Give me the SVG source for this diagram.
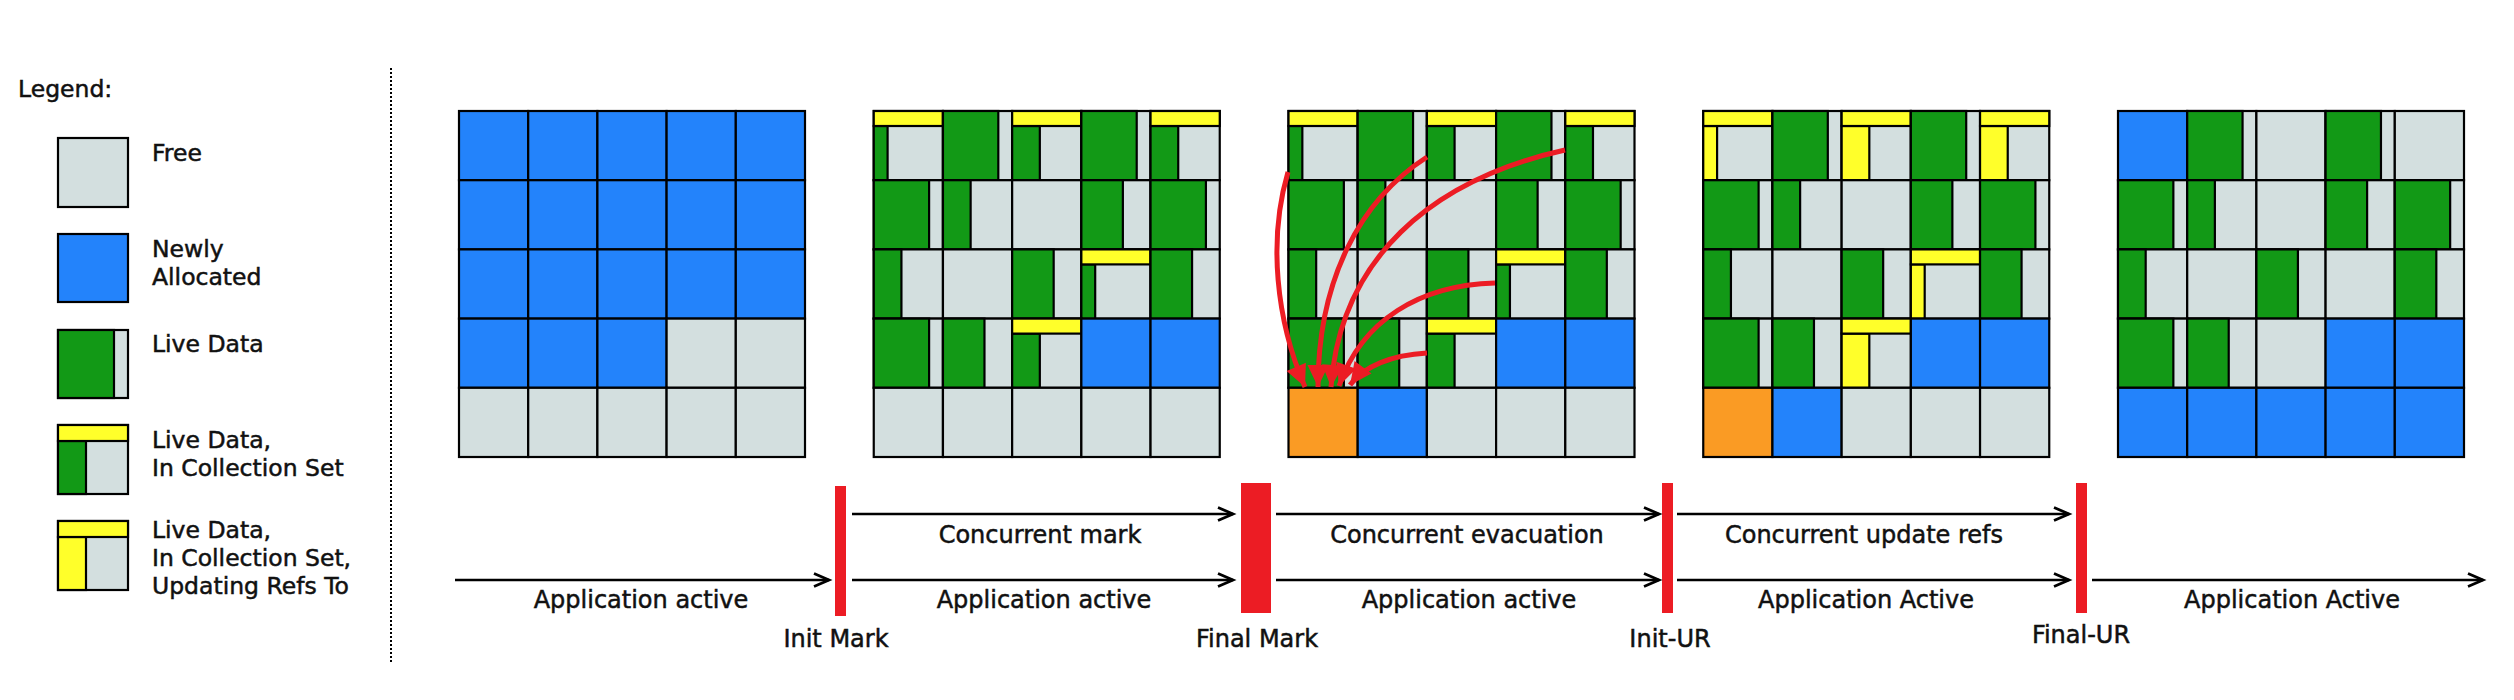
<svg xmlns="http://www.w3.org/2000/svg" width="2514" height="700" viewBox="0 0 2514 700">
<style>
.c{stroke:#000;stroke-width:2.2}
.f{fill:#d3dfdf}.b{fill:#2383fb}.g{fill:#129916}.y{fill:#ffff2a}.o{fill:#fa9b24}
.bar{fill:#ec1c24}
.lt{font-family:"DejaVu Sans",Verdana,sans-serif;font-size:23.5px;fill:#111;stroke:#111;stroke-width:0.5}
.tl{font-family:"DejaVu Sans",Verdana,sans-serif;font-size:24px;fill:#111;stroke:#111;stroke-width:0.5;text-anchor:middle}
.ar{fill:none;stroke:#000;stroke-width:2.6;marker-end:url(#chev)}
.ra{fill:none;stroke:#ec1c24;stroke-width:5;marker-end:url(#tri)}
</style>
<defs>
<marker id="chev" markerUnits="userSpaceOnUse" markerWidth="40" markerHeight="40" refX="0" refY="0" orient="auto" overflow="visible">
<path d="M-15,-6.5 L0,0 L-15,6.5" fill="none" stroke="#000" stroke-width="2.8" stroke-linejoin="miter"/>
</marker>
<marker id="tri" markerUnits="userSpaceOnUse" markerWidth="40" markerHeight="40" refX="0" refY="0" orient="auto" overflow="visible">
<path d="M-22,-10.5 L0,0 L-22,10.5 z" fill="#ec1c24"/>
</marker>
<g id="F"><rect class="c f" width="69.2" height="69.2"/></g>
<g id="B"><rect class="c b" width="69.2" height="69.2"/></g>
<g id="O"><rect class="c o" width="69.2" height="69.2"/></g>
<g id="G2"><rect class="c f" width="69.2" height="69.2"/><rect class="c g" width="13.84" height="69.2"/></g>
<g id="G4"><rect class="c f" width="69.2" height="69.2"/><rect class="c g" width="27.68" height="69.2"/></g>
<g id="G6"><rect class="c f" width="69.2" height="69.2"/><rect class="c g" width="41.52" height="69.2"/></g>
<g id="G8"><rect class="c f" width="69.2" height="69.2"/><rect class="c g" width="55.36" height="69.2"/></g>
<g id="YG2"><rect class="c f" width="69.2" height="69.2"/><rect class="c g" y="15" width="13.84" height="54.2"/><rect class="c y" width="69.2" height="15"/></g>
<g id="YG4"><rect class="c f" width="69.2" height="69.2"/><rect class="c g" y="15" width="27.68" height="54.2"/><rect class="c y" width="69.2" height="15"/></g>
<g id="YY2"><rect class="c f" width="69.2" height="69.2"/><rect class="c y" y="15" width="13.84" height="54.2"/><rect class="c y" width="69.2" height="15"/></g>
<g id="YY4"><rect class="c f" width="69.2" height="69.2"/><rect class="c y" y="15" width="27.68" height="54.2"/><rect class="c y" width="69.2" height="15"/></g>
</defs>
<rect width="2514" height="700" fill="#fff"/>

<g id="legend">
<text class="lt" x="18" y="97">Legend:</text>
<g id="leg-free"><rect class="c f" x="58" y="138" width="70" height="69"/><text class="lt" x="152" y="161">Free</text></g>
<g id="leg-new"><rect class="c b" x="58" y="234" width="70" height="68"/><text class="lt" x="152" y="257">Newly</text><text class="lt" x="152" y="285">Allocated</text></g>
<g id="leg-live"><rect class="c f" x="58" y="330" width="70" height="68"/><rect class="c g" x="58" y="330" width="56" height="68"/><text class="lt" x="152" y="352">Live Data</text></g>
<g id="leg-cset"><rect class="c f" x="58" y="425" width="70" height="69"/><rect class="c g" x="58" y="441" width="28" height="53"/><rect class="c y" x="58" y="425" width="70" height="16"/><text class="lt" x="152" y="448">Live Data,</text><text class="lt" x="152" y="476">In Collection Set</text></g>
<g id="leg-upd"><rect class="c f" x="58" y="521" width="70" height="69"/><rect class="c y" x="58" y="537" width="28" height="53"/><rect class="c y" x="58" y="521" width="70" height="16"/><text class="lt" x="152" y="538">Live Data,</text><text class="lt" x="152" y="566">In Collection Set,</text><text class="lt" x="152" y="594">Updating Refs To</text></g>
</g>
<line id="separator" x1="391" y1="68" x2="391" y2="662" stroke="#000" stroke-width="2" stroke-dasharray="2,2"/>

<g id="heap1" transform="translate(459,111)">
<use href="#B" x="0" y="0"/><use href="#B" x="69.2" y="0"/><use href="#B" x="138.4" y="0"/><use href="#B" x="207.6" y="0"/><use href="#B" x="276.8" y="0"/>
<use href="#B" x="0" y="69.2"/><use href="#B" x="69.2" y="69.2"/><use href="#B" x="138.4" y="69.2"/><use href="#B" x="207.6" y="69.2"/><use href="#B" x="276.8" y="69.2"/>
<use href="#B" x="0" y="138.4"/><use href="#B" x="69.2" y="138.4"/><use href="#B" x="138.4" y="138.4"/><use href="#B" x="207.6" y="138.4"/><use href="#B" x="276.8" y="138.4"/>
<use href="#B" x="0" y="207.6"/><use href="#B" x="69.2" y="207.6"/><use href="#B" x="138.4" y="207.6"/><use href="#F" x="207.6" y="207.6"/><use href="#F" x="276.8" y="207.6"/>
<use href="#F" x="0" y="276.8"/><use href="#F" x="69.2" y="276.8"/><use href="#F" x="138.4" y="276.8"/><use href="#F" x="207.6" y="276.8"/><use href="#F" x="276.8" y="276.8"/>
</g>

<g id="heap2" transform="translate(873.75,111)">
<use href="#YG2" x="0" y="0"/><use href="#G8" x="69.2" y="0"/><use href="#YG4" x="138.4" y="0"/><use href="#G8" x="207.6" y="0"/><use href="#YG4" x="276.8" y="0"/>
<use href="#G8" x="0" y="69.2"/><use href="#G4" x="69.2" y="69.2"/><use href="#F" x="138.4" y="69.2"/><use href="#G6" x="207.6" y="69.2"/><use href="#G8" x="276.8" y="69.2"/>
<use href="#G4" x="0" y="138.4"/><use href="#F" x="69.2" y="138.4"/><use href="#G6" x="138.4" y="138.4"/><use href="#YG2" x="207.6" y="138.4"/><use href="#G6" x="276.8" y="138.4"/>
<use href="#G8" x="0" y="207.6"/><use href="#G6" x="69.2" y="207.6"/><use href="#YG4" x="138.4" y="207.6"/><use href="#B" x="207.6" y="207.6"/><use href="#B" x="276.8" y="207.6"/>
<use href="#F" x="0" y="276.8"/><use href="#F" x="69.2" y="276.8"/><use href="#F" x="138.4" y="276.8"/><use href="#F" x="207.6" y="276.8"/><use href="#F" x="276.8" y="276.8"/>
</g>

<g id="heap3" transform="translate(1288.5,111)">
<use href="#YG2" x="0" y="0"/><use href="#G8" x="69.2" y="0"/><use href="#YG4" x="138.4" y="0"/><use href="#G8" x="207.6" y="0"/><use href="#YG4" x="276.8" y="0"/>
<use href="#G8" x="0" y="69.2"/><use href="#G4" x="69.2" y="69.2"/><use href="#F" x="138.4" y="69.2"/><use href="#G6" x="207.6" y="69.2"/><use href="#G8" x="276.8" y="69.2"/>
<use href="#G4" x="0" y="138.4"/><use href="#F" x="69.2" y="138.4"/><use href="#G6" x="138.4" y="138.4"/><use href="#YG2" x="207.6" y="138.4"/><use href="#G6" x="276.8" y="138.4"/>
<use href="#G8" x="0" y="207.6"/><use href="#G6" x="69.2" y="207.6"/><use href="#YG4" x="138.4" y="207.6"/><use href="#B" x="207.6" y="207.6"/><use href="#B" x="276.8" y="207.6"/>
<use href="#O" x="0" y="276.8"/><use href="#B" x="69.2" y="276.8"/><use href="#F" x="138.4" y="276.8"/><use href="#F" x="207.6" y="276.8"/><use href="#F" x="276.8" y="276.8"/>
</g>

<g id="heap4" transform="translate(1703.25,111)">
<use href="#YY2" x="0" y="0"/><use href="#G8" x="69.2" y="0"/><use href="#YY4" x="138.4" y="0"/><use href="#G8" x="207.6" y="0"/><use href="#YY4" x="276.8" y="0"/>
<use href="#G8" x="0" y="69.2"/><use href="#G4" x="69.2" y="69.2"/><use href="#F" x="138.4" y="69.2"/><use href="#G6" x="207.6" y="69.2"/><use href="#G8" x="276.8" y="69.2"/>
<use href="#G4" x="0" y="138.4"/><use href="#F" x="69.2" y="138.4"/><use href="#G6" x="138.4" y="138.4"/><use href="#YY2" x="207.6" y="138.4"/><use href="#G6" x="276.8" y="138.4"/>
<use href="#G8" x="0" y="207.6"/><use href="#G6" x="69.2" y="207.6"/><use href="#YY4" x="138.4" y="207.6"/><use href="#B" x="207.6" y="207.6"/><use href="#B" x="276.8" y="207.6"/>
<use href="#O" x="0" y="276.8"/><use href="#B" x="69.2" y="276.8"/><use href="#F" x="138.4" y="276.8"/><use href="#F" x="207.6" y="276.8"/><use href="#F" x="276.8" y="276.8"/>
</g>

<g id="heap5" transform="translate(2118,111)">
<use href="#B" x="0" y="0"/><use href="#G8" x="69.2" y="0"/><use href="#F" x="138.4" y="0"/><use href="#G8" x="207.6" y="0"/><use href="#F" x="276.8" y="0"/>
<use href="#G8" x="0" y="69.2"/><use href="#G4" x="69.2" y="69.2"/><use href="#F" x="138.4" y="69.2"/><use href="#G6" x="207.6" y="69.2"/><use href="#G8" x="276.8" y="69.2"/>
<use href="#G4" x="0" y="138.4"/><use href="#F" x="69.2" y="138.4"/><use href="#G6" x="138.4" y="138.4"/><use href="#F" x="207.6" y="138.4"/><use href="#G6" x="276.8" y="138.4"/>
<use href="#G8" x="0" y="207.6"/><use href="#G6" x="69.2" y="207.6"/><use href="#F" x="138.4" y="207.6"/><use href="#B" x="207.6" y="207.6"/><use href="#B" x="276.8" y="207.6"/>
<use href="#B" x="0" y="276.8"/><use href="#B" x="69.2" y="276.8"/><use href="#B" x="138.4" y="276.8"/><use href="#B" x="207.6" y="276.8"/><use href="#B" x="276.8" y="276.8"/>
</g>

<g id="pause-init-mark"><rect class="bar" x="835" y="486" width="11" height="130"/><text class="tl" x="836" y="647">Init Mark</text></g>
<g id="pause-final-mark"><rect class="bar" x="1241" y="483" width="30" height="130"/><text class="tl" x="1257" y="647">Final Mark</text></g>
<g id="pause-init-ur"><rect class="bar" x="1662" y="483" width="11" height="130"/><text class="tl" x="1670" y="647">Init-UR</text></g>
<g id="pause-final-ur"><rect class="bar" x="2076" y="483" width="11" height="130"/><text class="tl" x="2081" y="643">Final-UR</text></g>

<g id="connectors">
<path class="ar" d="M455,580 H829"/>
<path class="ar" d="M852,514 H1233"/>
<path class="ar" d="M852,580 H1233"/>
<path class="ar" d="M1276,514 H1659"/>
<path class="ar" d="M1276,580 H1659"/>
<path class="ar" d="M1677,514 H2069"/>
<path class="ar" d="M1677,580 H2069"/>
<path class="ar" d="M2092,580 H2483"/>
<path class="ra" d="M1288,172 C1268,240 1276,320 1305,387"/>
<path class="ra" d="M1427,157 C1360,200 1318,280 1318,387"/>
<path class="ra" d="M1565,150 C1430,180 1340,260 1331,387"/>
<path class="ra" d="M1495,283 C1420,285 1362,320 1339,386"/>
<path class="ra" d="M1427,353 C1392,355 1364,366 1350,385"/>
</g>

<g id="labels">
<text class="tl" x="641" y="608">Application active</text>
<text class="tl" x="1040" y="543">Concurrent mark</text>
<text class="tl" x="1044" y="608">Application active</text>
<text class="tl" x="1467" y="543">Concurrent evacuation</text>
<text class="tl" x="1469" y="608">Application active</text>
<text class="tl" x="1864" y="543">Concurrent update refs</text>
<text class="tl" x="1866" y="608">Application Active</text>
<text class="tl" x="2292" y="608">Application Active</text>
</g>
</svg>
